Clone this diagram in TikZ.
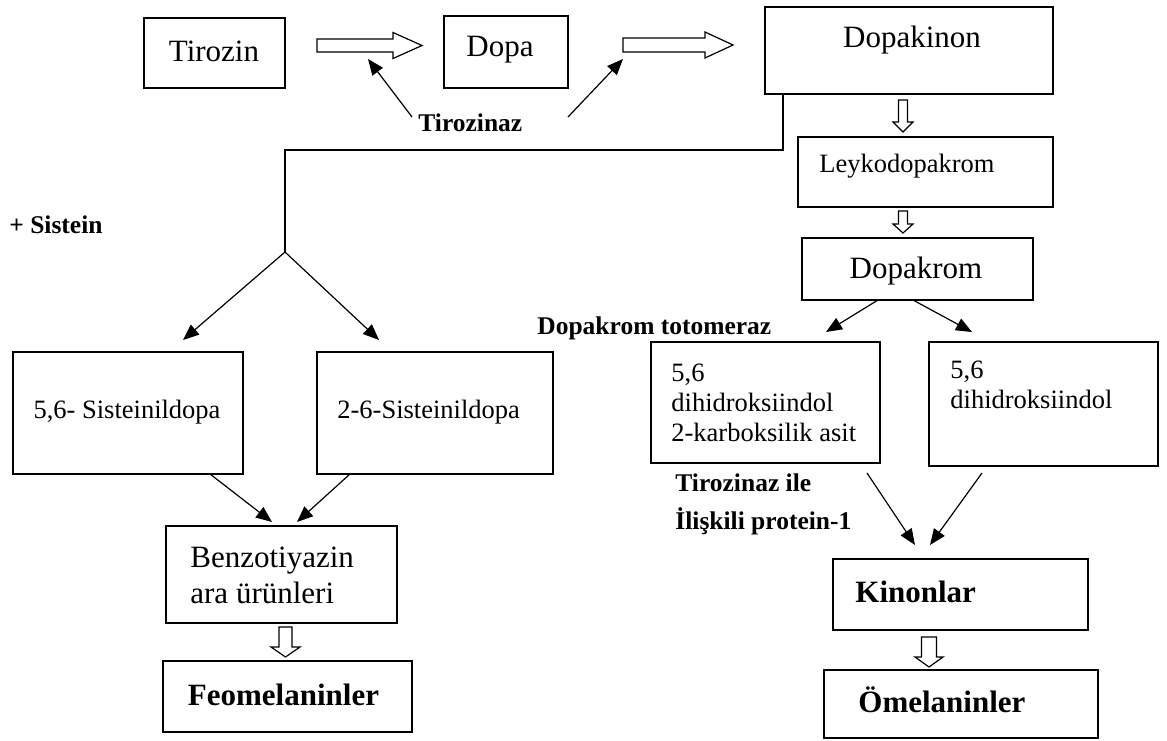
\documentclass[tikz,border=0pt]{standalone}
\usepackage{fontspec}
\setmainfont{Liberation Serif}
\usetikzlibrary{fit,arrows.meta}
\newcommand\hollowRight[6]{% x-start, x-tip, y-centre, shaft half, head half, head length
  \draw[hollow] (#1,#3-#4) -- (#2-#6,#3-#4) -- (#2-#6,#3-#5) -- (#2,#3) -- (#2-#6,#3+#5) -- (#2-#6,#3+#4) -- (#1,#3+#4) -- cycle;}
\newcommand\hollowDown[6]{% x-centre, y-top, y-tip, shaft half, head half, head length
  \draw[hollow] (#1-#4,#2) -- (#1-#4,#3-#6) -- (#1-#5,#3-#6) -- (#1,#3) -- (#1+#5,#3-#6) -- (#1+#4,#3-#6) -- (#1+#4,#2) -- cycle;}
\begin{document}
\begin{tikzpicture}[x=0.5pt,y=-0.5pt,
  bx/.style={draw,line width=0.6pt,inner sep=0pt},
  big/.style={inner sep=0pt,font=\fontsize{15.5}{18}\selectfont},
  bigb/.style={inner sep=0pt,font=\fontsize{15.5}{18}\selectfont\bfseries},
  small/.style={inner sep=0pt,font=\fontsize{13.25}{15}\selectfont},
  lbl/.style={inner sep=0pt,font=\fontsize{12.75}{15}\selectfont\bfseries},
  arr/.style={line width=0.6pt,-{Triangle[length=8pt,width=6.5pt]}},
  line/.style={line width=0.6pt},
  hollow/.style={draw,line width=0.6pt,fill=white}]
\useasboundingbox (0,0) rectangle (1167,740);
% boxes
\node[bx,fit={(144,18) (285,88)}] (tir) {};
\node[bx,fit={(444,16) (568,88)}] (dopa) {};
\node[bx,fit={(765,7) (1053,94)}] (dkn) {};
\node[bx,fit={(798,137) (1053,207)}] (ley) {};
\node[bx,fit={(802,238) (1033,300)}] (dkr) {};
\node[bx,fit={(13,352) (243,474)}] (s56) {};
\node[bx,fit={(317,352) (553,474)}] (s26) {};
\node[bx,fit={(651,342) (880,463)}] (dhA) {};
\node[bx,fit={(929,342) (1158,466)}] (dhB) {};
\node[bx,fit={(166,526) (397,623)}] (benz) {};
\node[bx,fit={(163,661) (412,732)}] (feo) {};
\node[bx,fit={(833,559) (1088,630)}] (kin) {};
\node[bx,fit={(824,670) (1098,738)}] (om) {};
% texts
\node[big,anchor=base] (tirT) at (214,61) {Tirozin};
\node[big,anchor=base] (dopaT) at (500,56) {Dopa};
\node[big,anchor=base] (dknT) at (912,47) {Dopakinon};
\node[small,anchor=base] (leyT) at (907,172) {Leykodopakrom};
\node[big,anchor=base] (dkrT) at (916,278) {Dopakrom};
\node[small,anchor=base] (s56T) at (127,418) {5,6- Sisteinildopa};
\node[small,anchor=base west] (s26T) at (337,418) {2-6-Sisteinildopa};
\node[small,anchor=base west,align=left] (dhAT) at (671,441) {5,6\\dihidroksiindol\\2-karboksilik asit};
\node[small,anchor=base west,align=left] (dhBT) at (950,408) {5,6\\dihidroksiindol};
\node[big,anchor=base west,align=left] (benzT) at (190,603) {Benzotiyazin\\ara ürünleri};
\node[bigb,anchor=base] (feoT) at (283.5,705) {Feomelaninler};
\node[bigb,anchor=base west] (kinT) at (855,602) {Kinonlar};
\node[bigb,anchor=base west] (omT) at (858,712) {Ömelaninler};
% labels
\node[lbl,anchor=base west] (tz) at (418,131) {Tirozinaz};
\node[lbl,anchor=base west] (sis) at (9,233) {+ Sistein};
\node[lbl,anchor=base west] (tot) at (537,334) {Dopakrom totomeraz};
\node[lbl,anchor=base west] (tz2) at (675,491) {Tirozinaz ile};
\node[lbl,anchor=base west] (trp) at (675,529) {İlişkili protein-1};
% hollow arrows
\hollowRight{317}{422}{45.5}{6.5}{13}{29}
\hollowRight{623}{733}{45}{7}{13}{28}
\hollowDown{903}{100}{132}{4.5}{10}{10}
\hollowDown{903}{211}{233}{4.5}{10}{9}
\hollowDown{285.5}{627}{657}{6.5}{14.5}{10}
\hollowDown{929}{637}{667}{7.5}{14}{10}
% Tirozinaz arrows
\coordinate (tzA) at (412,117);
\coordinate (tzAe) at (368,59);
\coordinate (tzB) at (568,117);
\coordinate (tzBe) at (623,59);
\draw[arr] (tzA) -- (tzAe);
\draw[arr] (tzB) -- (tzBe);
% cysteine branch
\coordinate (br0) at (783,150);
\coordinate (brJ) at (285,252);
\coordinate (brL) at (183,340);
\coordinate (brR) at (379,340);
\draw[line] (dkn.south -| br0) -- (br0) -| (brJ);
\draw[arr] (brJ) -- (brL);
\draw[arr] (brJ) -- (brR);
% dopakrom split
\coordinate (dkL) at (878,300);
\coordinate (dkLe) at (826,332);
\coordinate (dkR) at (913,300);
\coordinate (dkRe) at (972,332);
\draw[arr] (dkL) -- (dkLe);
\draw[arr] (dkR) -- (dkRe);
% to benzotiyazin
\coordinate (bL) at (210,474);
\coordinate (bLe) at (272,522);
\coordinate (bR) at (350,474);
\coordinate (bRe) at (297,522);
\draw[arr] (bL) -- (bLe);
\draw[arr] (bR) -- (bRe);
% to kinonlar
\coordinate (kL) at (867,473);
\coordinate (kLe) at (915,545);
\coordinate (kR) at (982,473);
\coordinate (kRe) at (930,545);
\draw[arr] (kL) -- (kLe);
\draw[arr] (kR) -- (kRe);
\end{tikzpicture}
\end{document}
